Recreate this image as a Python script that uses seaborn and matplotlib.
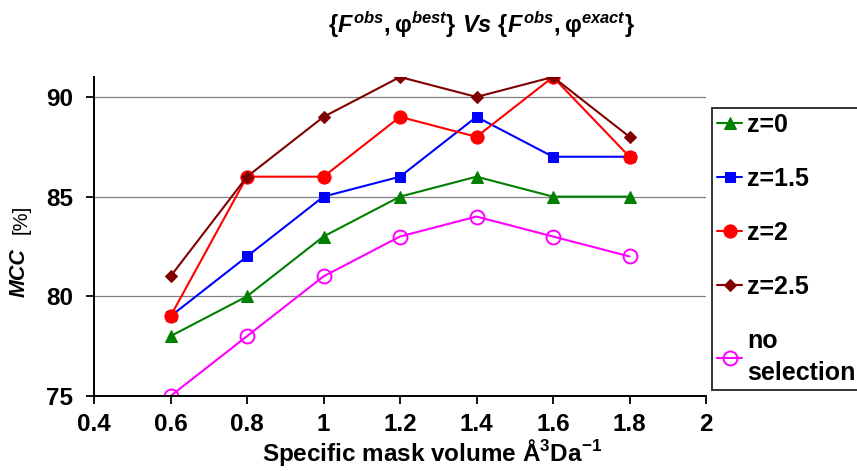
import matplotlib
matplotlib.use("Agg")
import matplotlib.pyplot as plt
import seaborn as sns
import pandas as pd

sns.set_style("white")
plt.rcParams['font.family'] = ['Liberation Sans', 'DejaVu Sans']
plt.rcParams['mathtext.fontset'] = 'custom'
plt.rcParams['mathtext.rm'] = 'Liberation Sans:bold'
plt.rcParams['mathtext.it'] = 'Liberation Sans:bold:italic'
plt.rcParams['mathtext.bf'] = 'Liberation Sans:bold'
for k in ['text.color', 'axes.labelcolor', 'xtick.color', 'ytick.color']:
    plt.rcParams[k] = 'black'

volume = [0.6, 0.8, 1.0, 1.2, 1.4, 1.6, 1.8]
z0 = [78, 80, 83, 85, 86, 85, 85]
z15 = [79, 82, 85, 86, 89, 87, 87]
z2 = [79, 86, 86, 89, 88, 91, 87]
z25 = [81, 86, 89, 91, 90, 91, 88]
no_sel = [75, 78, 81, 83, 84, 83, 82]
labels = ["z=0", "z=1.5", "z=2", "z=2.5", "no\nselection"]
xticks = [0.4, 0.6, 0.8, 1.0, 1.2, 1.4, 1.6, 1.8, 2.0]
yticks = [75, 80, 85, 90]

series = [z0, z15, z2, z25, no_sel]
styles = [
    dict(color='#008000', marker='^', markersize=8.5, markerfacecolor='#008000'),
    dict(color='#0000FF', marker='s', markersize=7, markerfacecolor='#0000FF'),
    dict(color='#FF0000', marker='o', markersize=9.5, markerfacecolor='#FF0000'),
    dict(color='#800000', marker='D', markersize=6, markerfacecolor='#800000'),
    dict(color='#FF00FF', marker='o', markersize=10, markerfacecolor='none', markeredgewidth=1.4),
]

fig = plt.figure(figsize=(8.57, 4.71), dpi=100)
ax = fig.add_axes([94/857, 1-396/471, (706-94)/857, (396-77)/471])

for vals, lab, st in zip(series, labels, styles):
    df = pd.DataFrame({"x": volume, "y": vals})
    sns.lineplot(data=df, x="x", y="y", ax=ax, label=lab, linewidth=1.5,
                 markeredgecolor=st['color'], **st)

ax.set_xlim(0.4, 2.0)
ax.set_ylim(75, 91)
ax.set_xticks(xticks)
ax.set_xticklabels([f"{t:g}" for t in xticks])
ax.set_yticks(yticks)
for t in yticks[1:]:
    ax.axhline(t, color='#808080', lw=0.9, zorder=0)
ax.tick_params(axis='both', direction='out', length=6, width=1.3, color='black',
               labelsize=17.5, pad=6, left=True, bottom=True)
ax.tick_params(axis='y', pad=9)
for lbl in ax.get_xticklabels() + ax.get_yticklabels():
    lbl.set_fontweight('bold')
for s in ['top', 'right']:
    ax.spines[s].set_visible(False)
for s in ['left', 'bottom']:
    ax.spines[s].set_color('black')
    ax.spines[s].set_linewidth(1.4)

ax.set_xlabel(r"Specific mask volume Å$^{3}$Da$^{-1}$", fontsize=17.5, fontweight='bold')
ax.xaxis.set_label_coords((432-94)/612, -0.13)
ax.set_ylabel("")
fig.text(19/857, 1-273/471, "MCC", rotation=90, fontsize=15.5, fontweight='bold',
         fontstyle='italic', ha='center', va='center')
fig.text(21/857, 1-219/471, "[%]", rotation=90, fontsize=14.5,
         ha='center', va='center')

fig.text(481/857, 1-25/471,
         r"$\{\mathit{F}^{\mathit{obs}}\mathrm{,φ}^{\mathit{best}}\}\ \mathit{Vs}\ \{\mathit{F}^{\mathit{obs}}\mathrm{,φ}^{\mathit{exact}}\}$",
         fontsize=17, ha='center', va='center')

leg = ax.legend(loc='upper left', bbox_to_anchor=(712/857, 1-108/471),
                bbox_transform=fig.transFigure, borderaxespad=0, frameon=True,
                fancybox=False, edgecolor='black', handlelength=1.0,
                handletextpad=0.2, labelspacing=1.2, borderpad=0.2,
                prop={'family': 'Liberation Sans', 'weight': 'bold', 'size': 18})
for t in leg.get_texts():
    t.set_linespacing(1.4)
leg.get_frame().set_linewidth(1.4)

fig.savefig("out.png", dpi=100)
